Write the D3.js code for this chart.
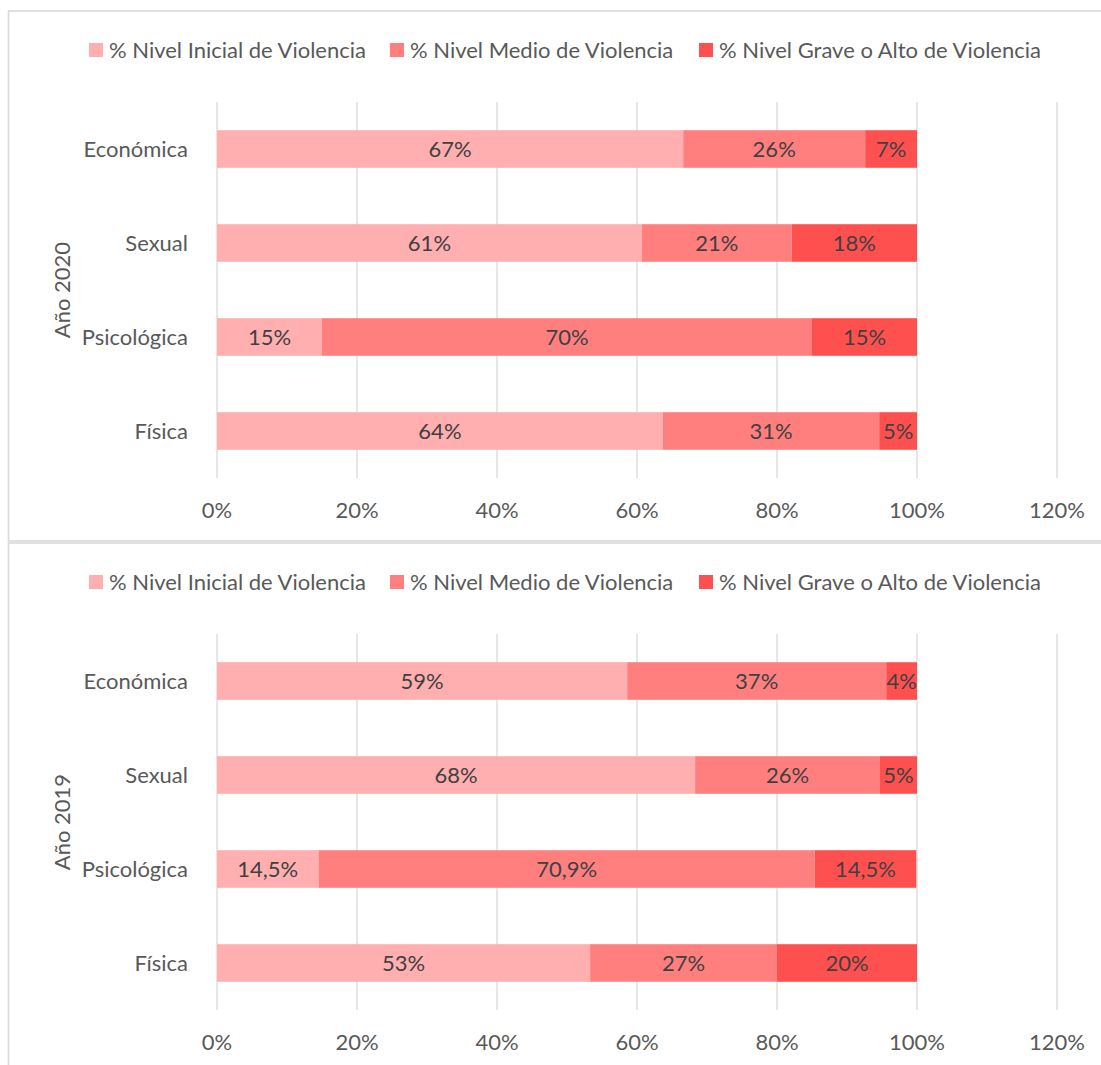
<!DOCTYPE html>
<html><head><meta charset="utf-8">
<script src="https://cdn.jsdelivr.net/npm/d3@7"></script>
<style>
html,body{margin:0;padding:0;background:#fff;overflow:hidden}
text{font-family:Lato,"Open Sans",sans-serif}
</style></head>
<body><svg id="c" width="1101" height="1065"></svg>
<script>
const categories = ["Económica","Sexual","Psicológica","Física"];
const seriesNames = ["% Nivel Inicial de Violencia","% Nivel Medio de Violencia","% Nivel Grave o Alto de Violencia"];
const colors = ["#FFAFAF","#FF7F7F","#FF5050"];
const ticks = [0,20,40,60,80,100,120];
const tickLabels = ["0%","20%","40%","60%","80%","100%","120%"];

// Año 2020
const inicial2020 = [66.6, 60.7, 15.0, 63.7];
const medio2020   = [26.0, 21.4, 70.0, 30.9];
const grave2020   = [7.4, 17.9, 15.0, 5.4];
const labInicial2020 = ["67%","61%","15%","64%"];
const labMedio2020   = ["26%","21%","70%","31%"];
const labGrave2020   = ["7%","18%","15%","5%"];

// Año 2019
const inicial2019 = [58.6, 68.3, 14.5, 53.3];
const medio2019   = [37.0, 26.4, 70.9, 26.7];
const grave2019   = [4.4, 5.3, 14.5, 20.0];
const labInicial2019 = ["59%","68%","14,5%","53%"];
const labMedio2019   = ["37%","26%","70,9%","27%"];
const labGrave2019   = ["4%","5%","14,5%","20%"];

const svg = d3.select("#c");
const FS = 22;

function panel(cfg){
  const g = svg.append("g");
  g.append("rect").attr("x",8.5).attr("y",cfg.top).attr("width",1120).attr("height",cfg.h)
    .attr("fill","#fff").attr("stroke","#D9D9D9").attr("stroke-width",1.6);

  const x = d3.scaleLinear().domain([0,120]).range([217,1057]);
  const y = d3.scaleBand().domain(categories).range([cfg.plotTop, cfg.plotTop+376]).paddingInner(0.6).paddingOuter(0.3);

  g.selectAll(".grid").data(ticks).enter().append("line")
    .attr("x1",d=>x(d)).attr("x2",d=>x(d))
    .attr("y1",cfg.plotTop).attr("y2",cfg.plotTop+376)
    .attr("stroke","#D9D9D9").attr("stroke-width",1.3);

  g.selectAll(".tl").data(ticks).enter().append("text")
    .attr("x",d=>x(d)).attr("y",cfg.plotTop+376+40)
    .attr("text-anchor","middle").attr("font-size",FS).attr("fill","#595959")
    .text((d,i)=>tickLabels[i]);

  g.selectAll(".cl").data(categories).enter().append("text")
    .attr("x",188).attr("y",d=>y(d)+y.bandwidth()/2).attr("dy","0.35em")
    .attr("text-anchor","end").attr("font-size",FS).attr("fill","#595959").text(d=>d);

  g.append("text").attr("transform",`translate(${70},${cfg.plotTop+188}) rotate(-90)`)
    .attr("text-anchor","middle").attr("font-size",FS).attr("fill","#595959").text(cfg.title);

  const series = [cfg.s0, cfg.s1, cfg.s2];
  const labels = [cfg.l0, cfg.l1, cfg.l2];
  const rows = categories.map((c,i)=>{
    let acc=0; return series.map((s,k)=>{const r={c,k,v:s[i],x0:acc,x1:acc+s[i],lab:labels[k][i]}; acc+=s[i]; return r;});
  }).flat();

  g.selectAll(".bar").data(rows).enter().append("rect")
    .attr("x",d=>x(d.x0)).attr("width",d=>x(d.x1)-x(d.x0))
    .attr("y",d=>y(d.c)).attr("height",y.bandwidth())
    .attr("fill",d=>colors[d.k]);

  g.selectAll(".bl").data(rows).enter().append("text")
    .attr("x",d=>(x(d.x0)+x(d.x1))/2).attr("y",d=>y(d.c)+y.bandwidth()/2).attr("dy","0.35em")
    .attr("text-anchor","middle").attr("font-size",FS).attr("fill","#404040").text(d=>d.lab);

  const legX = [89, 390, 699];
  const lg = g.selectAll(".lg").data(seriesNames).enter().append("g")
    .attr("transform",(d,i)=>`translate(${legX[i]},${cfg.legY})`);
  lg.append("rect").attr("x",0).attr("y",-7).attr("width",14).attr("height",14).attr("fill",(d,i)=>colors[i]);
  lg.append("text").attr("x",20).attr("y",0).attr("dy","0.35em").attr("font-size",FS).attr("fill","#595959").text(d=>d);
}

panel({top:11, h:530, plotTop:102, legY:50, title:"Año 2020",
  s0:inicial2020,s1:medio2020,s2:grave2020,l0:labInicial2020,l1:labMedio2020,l2:labGrave2020});
panel({top:543, h:600, plotTop:634, legY:582, title:"Año 2019",
  s0:inicial2019,s1:medio2019,s2:grave2019,l0:labInicial2019,l1:labMedio2019,l2:labGrave2019});
</script>
</body></html>
